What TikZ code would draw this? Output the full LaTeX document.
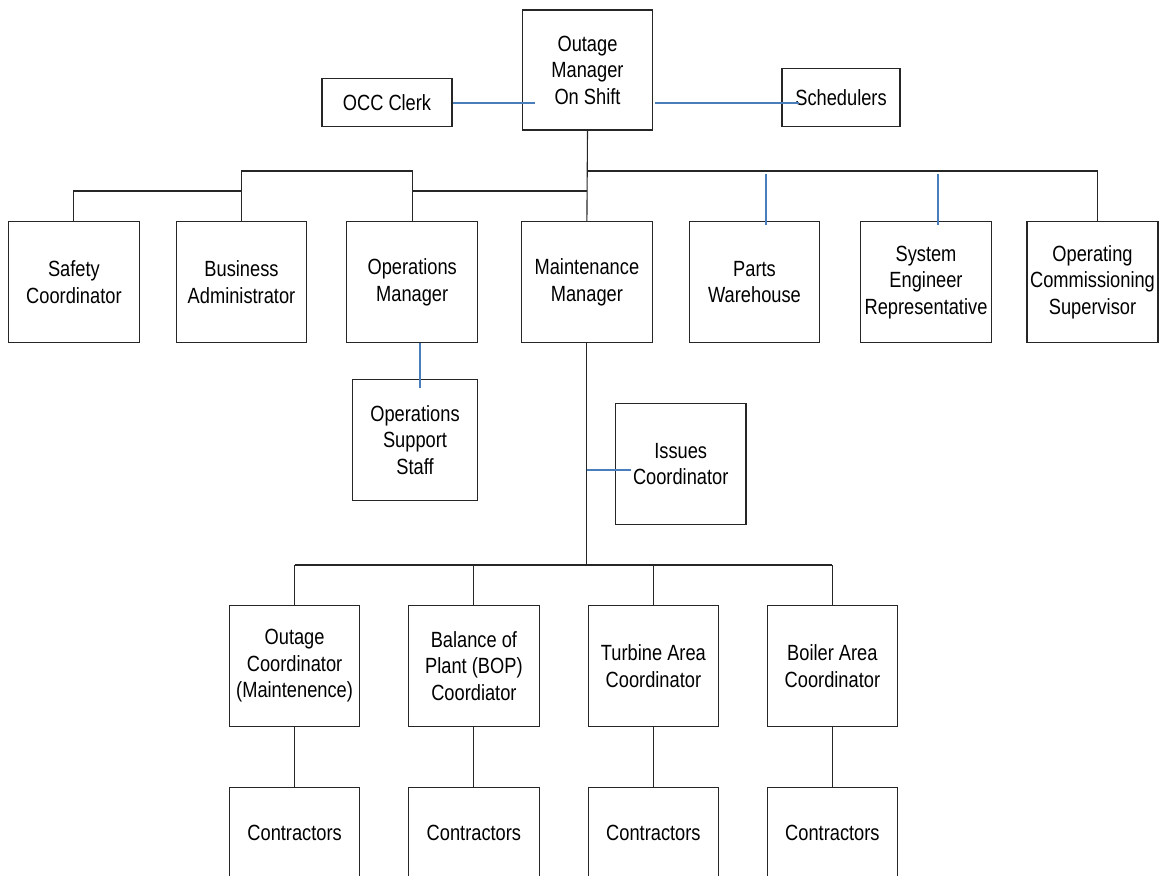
\documentclass[tikz,border=0pt]{standalone}
\usepackage{fontspec}
\setmainfont{Liberation Sans}[FakeStretch=0.83]
\usetikzlibrary{calc}
\definecolor{linkblue}{RGB}{74,126,187}
\begin{document}
\begin{tikzpicture}[x=1pt,y=-1pt,
  box/.style={draw=black!85, line width=1.1pt, inner sep=0pt, align=center,
    minimum width=130.5pt, minimum height=121pt,
    font=\fontsize{22}{26.5}\selectfont},
  tree/.style={draw=black!85, line width=1.1pt},
  bluelink/.style={draw=linkblue, line width=2pt}]
\useasboundingbox (0,0) rectangle (1161,875);
\clip (0,0) rectangle (1161,875);
% top
\node[box, minimum width=130pt, minimum height=120pt] (top) at (587.5,70) {Outage\\Manager\\On Shift};
\node[box, minimum width=130pt, minimum height=48pt] (occ) at (387,102.5) {OCC Clerk};
\node[box, minimum width=118pt, minimum height=58pt] (sched) at (841,97.5) {Schedulers};
% row 1
\node[box, minimum width=131pt] (safety) at (73.9,282.2) {Safety\\Coordinator};
\node[box] (bus) at (241.5,282.2) {Business\\Administrator};
\node[box, minimum width=131pt] (opsm) at (412.2,282.2) {Operations\\Manager};
\node[box] (maint) at (586.9,282.2) {Maintenance\\Manager};
\node[box] (parts) at (754.5,282.2) {Parts\\Warehouse};
\node[box] (syseng) at (926,282.2) {System\\Engineer\\Representative};
\node[box, minimum width=131pt] (opcom) at (1092.5,282.2) {Operating\\Commissioning\\Supervisor};
% middle
\node[box, minimum width=125.4pt, minimum height=121.4pt] (support) at (415,440) {Operations\\Support\\Staff};
\node[box] (issues) at (680.7,464.2) {Issues\\Coordinator};
% row 3
\node[box, minimum height=120.6pt] (oc) at (294.6,666) {Outage\\Coordinator\\(Maintenence)};
\node[box, minimum height=120.6pt] (bop) at (473.9,666) {Balance of\\Plant (BOP)\\Coordiator};
\node[box, minimum height=120.6pt] (turb) at (653.4,666) {Turbine Area\\Coordinator};
\node[box, minimum height=120.6pt] (boil) at (832.4,666) {Boiler Area\\Coordinator};
% contractors
\node[box, minimum height=90.7pt] (con1) at (294.6,832.6) {Contractors};
\node[box, minimum height=90.7pt] (con2) at (473.9,832.6) {Contractors};
\node[box, minimum height=90.7pt] (con3) at (653.4,832.6) {Contractors};
\node[box, minimum height=90.7pt] (con4) at (832.4,832.6) {Contractors};
% coordinates
\coordinate (opcomin) at ($(opcom.north)+(4.7,0)$);
% black tree connectors
\draw[tree] (top.south) -- (maint.north);
\draw[tree] (maint.north |- 0,191) -- (opsm.north |- 0,191);
\draw[tree] (opsm.north) -- (opsm.north |- 0,171) -- (bus.north |- 0,171) -- (bus.north);
\draw[tree] (bus.north |- 0,191) -| (safety.north);
\draw[tree] (top.south |- 0,171) -| (opcomin);
\draw[tree] (maint.south) -- (maint.south |- 0,565);
\draw[tree] (oc.north |- 0,565) -- (boil.north |- 0,565);
\foreach \n in {oc,bop,turb,boil}{\draw[tree] (\n.north |- 0,565) -- (\n.north);}
\draw[tree] (oc.south) -- (con1.north);
\draw[tree] (bop.south) -- (con2.north);
\draw[tree] (turb.south) -- (con3.north);
\draw[tree] (boil.south) -- (con4.north);
% blue connectors
\draw[bluelink] ($(occ.east)+(0,0.8)$) -- ($(occ.east -| top.west)+(13,0.8)$);
\draw[bluelink] ($(top.east |- occ.east)+(2,0.8)$) -- ($(sched.west |- occ.east)+(18,0.8)$);
\draw[bluelink] ($(parts.north)+(11.5,-46.7)$) -- ($(parts.north)+(11.5,4.3)$);
\draw[bluelink] ($(syseng.north)+(12.3,-46.7)$) -- ($(syseng.north)+(12.3,4.3)$);
\draw[bluelink] ($(opsm.south)+(7.8,0)$) -- ($(support.north)+(5,9)$);
\draw[bluelink] ($(maint.south |- issues.west)+(0,5.5)$) -- ($(issues.west)+(15.7,5.5)$);
\end{tikzpicture}
\end{document}
